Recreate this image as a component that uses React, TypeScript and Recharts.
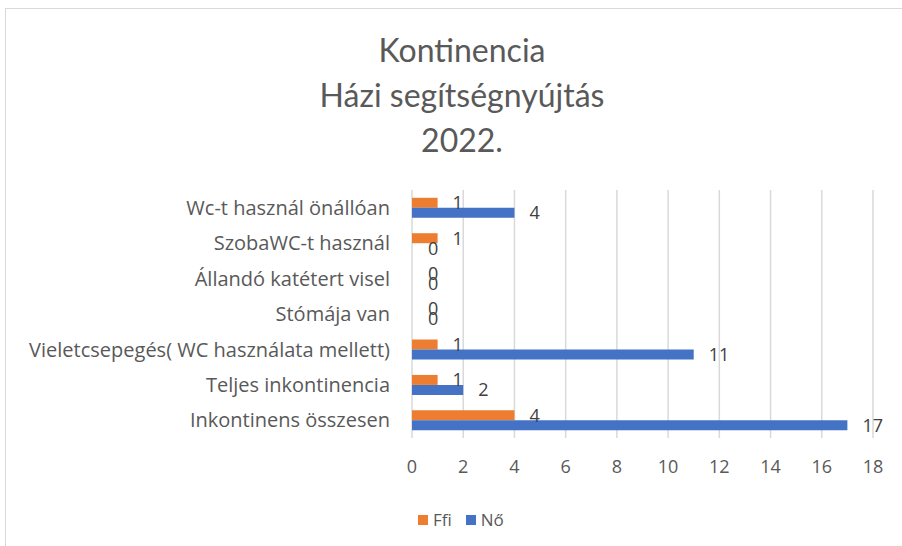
import {
  BarChart,
  Bar,
  XAxis,
  YAxis,
  CartesianGrid,
  LabelList,
  Cell,
} from 'recharts';

const categories = [
  'Wc-t használ önállóan',
  'SzobaWC-t használ',
  'Állandó katétert visel',
  'Stómája van',
  'Vieletcsepegés( WC használata mellett)',
  'Teljes inkontinencia',
  'Inkontinens összesen',
];
const ffiValues = [1, 1, 0, 0, 1, 1, 4];
const noValues = [4, 0, 0, 0, 11, 2, 17];
const xTicks = [0, 2, 4, 6, 8, 10, 12, 14, 16, 18];
const titleLines = ['Kontinencia', 'Házi segítségnyújtás', '2022.'];
const seriesNames = ['Ffi', 'Nő'];

const FONT = '"Open Sans", sans-serif';
const TITLE_FONT = 'Lato, sans-serif';
const TEXT = '#595959';
const ORANGE = '#ED7D31';
const BLUE = '#4472C4';
const seriesColors = [ORANGE, BLUE];

// zero bars get a 1px transparent stub so their value label still shows
const stub = (v: unknown) => (v === 0 ? 1 : 0);

export default function App() {
  const data = categories.map((name, i) => ({
    name,
    Ffi: ffiValues[i],
    Nő: noValues[i],
  }));

  return (
    <div
      style={{
        position: 'absolute',
        left: 0,
        top: 0,
        width: 902,
        height: 546,
        background: '#fff',
        fontFamily: FONT,
        overflow: 'hidden',
      }}
    >
      {/* chart frame, cut off on the right */}
      <div
        style={{
          position: 'absolute',
          left: 5,
          top: 8,
          width: 940,
          height: 600,
          borderTop: '1px solid #d9d9d9',
          borderLeft: '1px solid #d9d9d9',
        }}
      />
      <div
        style={{
          position: 'absolute',
          left: 262,
          width: 400,
          top: 27,
          textAlign: 'center',
          color: TEXT,
          fontFamily: TITLE_FONT,
          fontSize: 32,
          lineHeight: '45px',
        }}
      >
        {titleLines.map((t) => (
          <div key={t}>{t}</div>
        ))}
      </div>
      <BarChart
        width={902}
        height={546}
        data={data}
        layout='vertical'
        margin={{ top: 190, right: 29, bottom: 78, left: 0 }}
        barCategoryGap='22%'
        barGap={0}
        style={{ position: 'absolute', left: 0, top: 0 }}
      >
        <CartesianGrid horizontal={false} stroke='#d9d9d9' strokeWidth={1.5} />
        <XAxis
          type='number'
          domain={[0, 18]}
          ticks={xTicks}
          interval={0}
          tickLine={false}
          axisLine={false}
          tickSize={0}
          tickMargin={22}
          height={30}
          tick={{ fill: TEXT, fontSize: 18, fontFamily: FONT }}
        />
        <YAxis
          type='category'
          dataKey='name'
          width={412}
          tickLine={false}
          axisLine={false}
          tickSize={0}
          tickMargin={22}
          interval={0}
          tick={{ fill: TEXT, fontSize: 20, fontFamily: FONT }}
        />
        <Bar
          dataKey='Ffi'
          fill={ORANGE}
          minPointSize={stub}
          isAnimationActive={false}
        >
          {ffiValues.map((v, i) => (
            <Cell key={i} fill={v === 0 ? 'transparent' : ORANGE} />
          ))}
          <LabelList
            dataKey='Ffi'
            position='right'
            offset={15}
            fill='#404040'
            fontSize={18}
            fontFamily={FONT}
          />
        </Bar>
        <Bar
          dataKey='Nő'
          fill={BLUE}
          minPointSize={stub}
          isAnimationActive={false}
        >
          {noValues.map((v, i) => (
            <Cell key={i} fill={v === 0 ? 'transparent' : BLUE} />
          ))}
          <LabelList
            dataKey='Nő'
            position='right'
            offset={15}
            fill='#404040'
            fontSize={18}
            fontFamily={FONT}
          />
        </Bar>
      </BarChart>
      <div
        style={{
          position: 'absolute',
          left: 418,
          top: 508,
          display: 'flex',
          alignItems: 'center',
          color: TEXT,
          fontSize: 17,
          lineHeight: '24px',
        }}
      >
        {seriesNames.map((n, i) => (
          <div
            key={n}
            style={{ display: 'flex', alignItems: 'center', marginRight: 14 }}
          >
            <span
              style={{
                width: 10,
                height: 10,
                background: seriesColors[i],
                marginRight: 5,
              }}
            />
            {n}
          </div>
        ))}
      </div>
    </div>
  );
}
